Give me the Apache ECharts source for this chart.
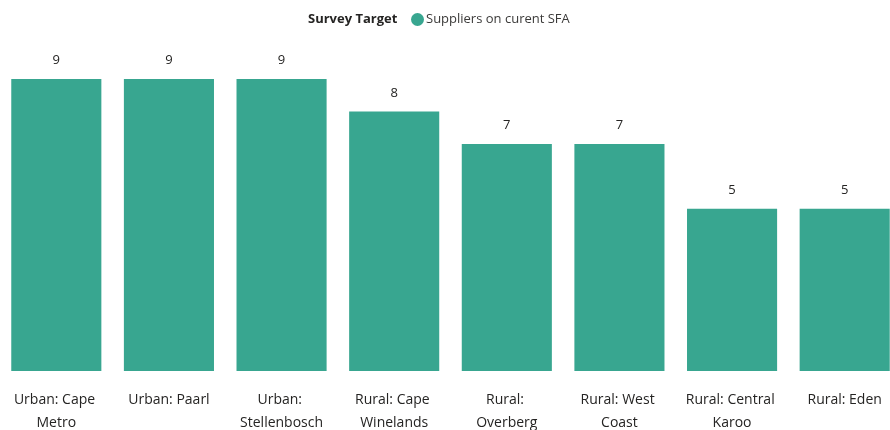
<!DOCTYPE html>
<html>
<head>
<meta charset="utf-8">
<script src="https://cdn.jsdelivr.net/npm/echarts@6/dist/echarts.min.js"></script>
<style>
html, body { margin: 0; padding: 0; background: #fff; }
#chart { width: 890px; height: 430px; }
</style>
</head>
<body>
<div id="chart"></div>
<script>
const categories = [
    'Urban: Cape Metro', 'Urban: Paarl', 'Urban: Stellenbosch', 'Rural: Cape Winelands',
    'Rural: Overberg', 'Rural: West Coast', 'Rural: Central Karoo', 'Rural: Eden'
]
const suppliers = [9, 9, 9, 8, 7, 7, 5, 5]
const seriesName = 'Suppliers on curent SFA'

const chart = echarts.init(document.getElementById('chart'))
const font = '"Open Sans", "Noto Sans", sans-serif'

chart.setOption({
    animation: false,
    textStyle: { fontFamily: font },
    title: {
        text: 'Survey Target',
        left: 303,
        top: 8,
        textStyle: { fontSize: 13, fontWeight: 'bold', color: '#252423', fontFamily: font }
    },
    legend: {
        data: [seriesName],
        left: 406,
        top: 8,
        icon: 'circle',
        itemWidth: 13,
        itemHeight: 13,
        itemGap: 4,
        textStyle: { fontSize: 13, color: '#3b3a39', padding: [0, 0, 0, -3] }
    },
    grid: {
        left: 0, width: 901, top: 79, height: 292,
        containLabel: false, outerBoundsMode: 'none'
    },
    xAxis: {
        type: 'category',
        data: categories,
        axisLine: { show: false },
        axisTick: { show: false },
        axisLabel: {
            interval: 0,
            margin: 18,
            width: 96,
            overflow: 'break',
            fontSize: 14,
            lineHeight: 23,
            color: '#252423'
        }
    },
    yAxis: {
        type: 'value',
        min: 0,
        max: 9,
        show: false,
        splitLine: { show: false }
    },
    series: [{
        name: seriesName,
        type: 'bar',
        data: suppliers,
        barCategoryGap: '20%',
        itemStyle: { color: '#38a690' },
        label: {
            show: true,
            position: 'top',
            distance: 12,
            fontSize: 13,
            color: '#252423'
        }
    }]
})
</script>
</body>
</html>
